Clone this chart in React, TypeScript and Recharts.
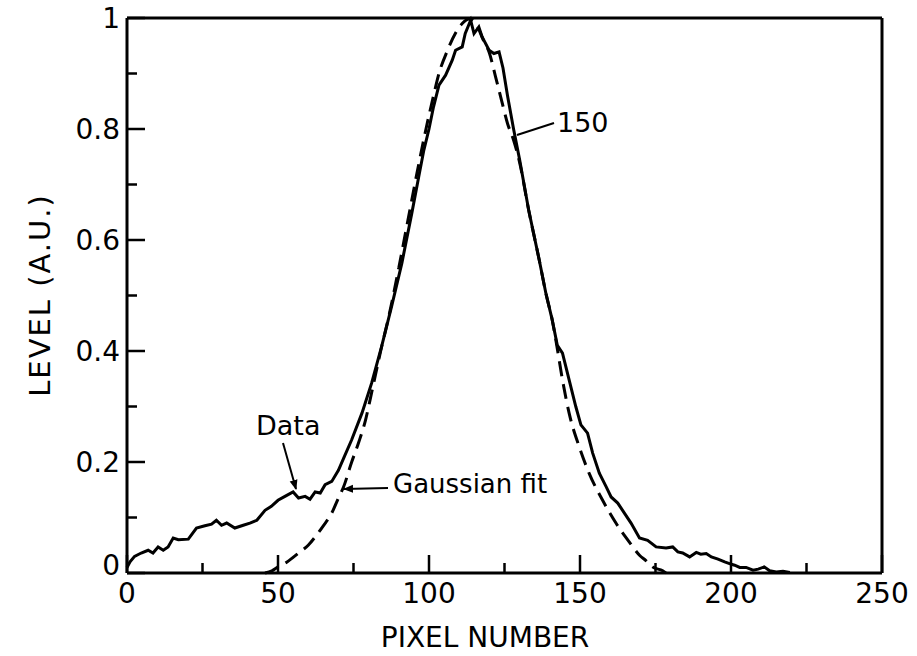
import React from 'react';
import { LineChart, Line, XAxis, YAxis, ReferenceLine } from 'recharts';

// measured profile (solid)
const dataX = [
  0, 1, 2.5, 4.7, 7, 8.6, 10.3, 12, 13.6, 15.3, 17, 20.3, 23, 25.8, 28, 29.6, 31.3, 33, 35.7, 38.5,
  40.7, 43, 45.7, 47.8, 50, 52.3, 55, 56.8, 59, 60.6, 62.3, 64, 65.6, 67.8, 70, 72, 74.4, 77.8, 81,
  84.3, 87.6, 91, 94.3, 96.6, 98.3, 100, 101.5, 103.3, 105.5, 107.7, 108.8, 111, 112, 113.8, 114.9,
  116.5, 117.6, 119.9, 121.5, 123.2, 124.5, 126, 128, 130, 133, 136.5, 138.7, 140.8, 142.5, 144.2,
  146.4, 148.6, 150.3, 152.5, 154.2, 156.4, 158.6, 160.3, 162.5, 164.7, 166.9, 169.7, 172.4, 175.2,
  178.5, 180.7, 182.4, 184, 186.3, 188.5, 190, 191.8, 193.5, 195.7, 197.9, 199.5, 201.2, 202.9, 205,
  207.3, 209, 211, 212.8, 215, 217.2, 219.5,
];
const dataY = [
  0.01, 0.02, 0.03, 0.036, 0.041, 0.036, 0.047, 0.041, 0.047, 0.063, 0.06, 0.061, 0.081, 0.085, 0.088,
  0.095, 0.086, 0.09, 0.081, 0.086, 0.09, 0.095, 0.113, 0.12, 0.131, 0.138, 0.146, 0.135, 0.138, 0.133,
  0.146, 0.144, 0.159, 0.165, 0.185, 0.21, 0.24, 0.288, 0.342, 0.408, 0.48, 0.558, 0.648, 0.714, 0.762,
  0.8, 0.84, 0.879, 0.897, 0.924, 0.942, 0.948, 0.972, 0.996, 0.972, 0.984, 0.966, 0.942, 0.936, 0.939,
  0.91, 0.86, 0.8, 0.745, 0.654, 0.564, 0.504, 0.456, 0.41, 0.396, 0.348, 0.3, 0.267, 0.252, 0.216,
  0.18, 0.156, 0.137, 0.126, 0.108, 0.09, 0.063, 0.059, 0.047, 0.045, 0.047, 0.038, 0.036, 0.029,
  0.037, 0.034, 0.035, 0.029, 0.025, 0.02, 0.017, 0.014, 0.01, 0.01, 0.005, 0.007, 0.011, 0.004,
  0.002, 0.003, 0.001,
];

// gaussian fit (dashed)
const fitX = [
  45.7, 48, 50, 53, 56.8, 60, 62.3, 65, 67.8, 70, 71.7, 74.4, 76.7, 79, 81, 84, 87, 90, 93, 96, 99,
  101.5, 103.3, 106, 108.8, 111, 113.3, 115.5, 118, 120, 122, 124, 126, 128, 130, 133, 136.5, 138.7,
  140.8, 142, 144.2, 146.4, 149.7, 153, 157.4, 161.9, 166.3, 169.7, 171.9, 174, 177.4, 178.5,
];
const fitY = [
  0, 0.004, 0.011, 0.02, 0.036, 0.05, 0.065, 0.085, 0.108, 0.135, 0.155, 0.2, 0.235, 0.276, 0.325, 0.4,
  0.47, 0.55, 0.635, 0.72, 0.8, 0.86, 0.9, 0.94, 0.973, 0.99, 0.998, 0.99, 0.96, 0.937, 0.895, 0.852,
  0.81, 0.78, 0.74, 0.654, 0.564, 0.504, 0.456, 0.42, 0.348, 0.288, 0.228, 0.18, 0.132, 0.09, 0.056,
  0.032, 0.022, 0.011, 0.004, 0,
];

const xTicks = [0, 25, 50, 75, 100, 125, 150, 175, 200, 225, 250];
const xTickLabels = ['0', '', '50', '', '100', '', '150', '', '200', '', '250'];
const yTicks = [0, 0.1, 0.2, 0.3, 0.4, 0.5, 0.6, 0.7, 0.8, 0.9, 1];
const yTickLabels = ['0', '', '0.2', '', '0.4', '', '0.6', '', '0.8', '', '1'];

const measured = dataX.map((x, i) => ({ x, y: dataY[i] }));
const fit = fitX.map((x, i) => ({ x, y: fitY[i] }));

const FONT = '"DejaVu Sans", sans-serif';

function XTick(props: any) {
  const { x, y, index } = props;
  const label = xTickLabels[index];
  return (
    <g>
      <line x1={x} x2={x} y1={y} y2={y - (label ? 18 : 10)} stroke="#000" strokeWidth={2.5} />
      {label && (
        <text x={x} y={y + 30} textAnchor="middle" fontSize={28} fontFamily={FONT} fill="#000">
          {label}
        </text>
      )}
    </g>
  );
}

function YTick(props: any) {
  const { x, y, index } = props;
  const label = yTickLabels[index];
  return (
    <g>
      <line x1={x} x2={x + (label ? 18 : 10)} y1={y} y2={y} stroke="#000" strokeWidth={2.5} />
      {label && (
        <text x={x - 7} y={y + (index === 0 ? 2 : 10)} textAnchor="end" fontSize={28} fontFamily={FONT} fill="#000">
          {label}
        </text>
      )}
    </g>
  );
}

export default function App() {
  return (
    <div style={{ position: 'absolute', left: 0, top: 0, width: 917, height: 656, background: '#fff' }}>
      <LineChart width={917} height={656} margin={{ top: 18, right: 35, bottom: 0, left: 0 }}>
        <XAxis
          dataKey="x"
          type="number"
          domain={[0, 250]}
          ticks={xTicks}
          interval={0}
          height={83}
          tickSize={0}
          tickMargin={0}
          tickLine={false}
          tick={<XTick />}
          axisLine={{ stroke: '#000', strokeWidth: 3 }}
        />
        <YAxis
          type="number"
          domain={[0, 1]}
          ticks={yTicks}
          interval={0}
          width={127}
          tickSize={0}
          tickMargin={0}
          tickLine={false}
          tick={<YTick />}
          axisLine={{ stroke: '#000', strokeWidth: 3 }}
        />
        <ReferenceLine y={1} stroke="#000" strokeWidth={3} />
        <ReferenceLine x={250} stroke="#000" strokeWidth={3} />
        <Line
          data={fit}
          dataKey="y"
          type="monotone"
          stroke="#000"
          strokeWidth={3}
          strokeDasharray="15 8"
          dot={false}
          isAnimationActive={false}
        />
        <Line
          data={measured}
          dataKey="y"
          type="linear"
          stroke="#000"
          strokeWidth={3}
          dot={false}
          isAnimationActive={false}
        />
      </LineChart>
      <svg width={917} height={656} style={{ position: 'absolute', left: 0, top: 0, pointerEvents: 'none' }}>
        <defs>
          <marker id="arr" viewBox="0 0 10 10" refX="9" refY="5" markerWidth="5" markerHeight="5" orient="auto">
            <path d="M0,1 L10,5 L0,9 z" fill="#000" />
          </marker>
        </defs>
        <text
          x={40}
          y={295}
          transform="rotate(-90 40 295)"
          textAnchor="middle"
          dominantBaseline="central"
          fontSize={29}
          letterSpacing={2}
          fontFamily={FONT}
        >
          LEVEL (A.U.)
        </text>
        <text x={485} y={647} textAnchor="middle" fontSize={28} fontFamily={FONT}>
          PIXEL NUMBER
        </text>
        <text x={256} y={435} fontSize={27} fontFamily={FONT}>Data</text>
        <line x1={283} y1={443} x2={296} y2={489} stroke="#000" strokeWidth={2} markerEnd="url(#arr)" />
        <text x={393} y={493} fontSize={26} fontFamily={FONT}>Gaussian fit</text>
        <line x1={388} y1={488} x2={344} y2={489} stroke="#000" strokeWidth={2} markerEnd="url(#arr)" />
        <text x={557} y={132} fontSize={27} fontFamily={FONT}>150</text>
        <line x1={554} y1={123} x2={517} y2={135} stroke="#000" strokeWidth={2} />
      </svg>
    </div>
  );
}
